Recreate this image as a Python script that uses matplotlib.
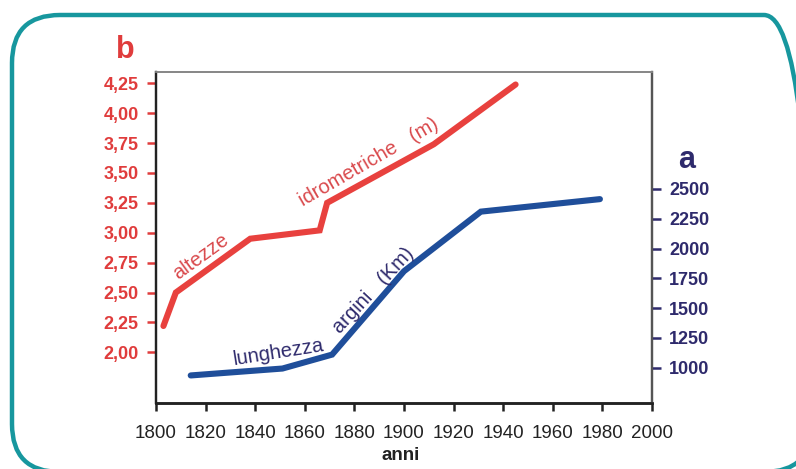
import matplotlib
matplotlib.use("Agg")
import matplotlib.pyplot as plt
from matplotlib.patches import FancyBboxPatch

plt.rcParams['font.family'] = ['Liberation Sans', 'DejaVu Sans']

# ---- data ----
red_years = [1803, 1808, 1838, 1866, 1869, 1912, 1945]
red_vals = [2.22, 2.50, 2.95, 3.02, 3.25, 3.74, 4.24]

blue_years = [1814, 1851, 1871, 1900, 1931, 1979]
blue_vals = [935, 993, 1110, 1810, 2310, 2415]

x_ticks = [1800, 1820, 1840, 1860, 1880, 1900, 1920, 1940, 1960, 1980, 2000]
left_ticks = [2.00, 2.25, 2.50, 2.75, 3.00, 3.25, 3.50, 3.75, 4.00, 4.25]
left_labels = ["2,00", "2,25", "2,50", "2,75", "3,00", "3,25", "3,50", "3,75", "4,00", "4,25"]
right_ticks = [1000, 1250, 1500, 1750, 2000, 2250, 2500]
right_labels = ["1000", "1250", "1500", "1750", "2000", "2250", "2500"]

RED = '#e8413e'
RED_TXT = '#e03c3c'
RED_ANN = '#d9494c'
BLUE = '#1f4e9a'
NAVY = '#2e2a6c'
TEAL = '#17979e'

W, H = 796, 469
fig = plt.figure(figsize=(W / 100, H / 100), dpi=100)
fig.patch.set_facecolor('white')

# border frame (pixel coordinate overlay, y up)
bg = fig.add_axes([0, 0, 1, 1])
bg.set_xlim(0, W)
bg.set_ylim(0, H)
bg.axis('off')
bg.add_patch(FancyBboxPatch((12, H - 472), 812 - 12, 472 - 15,
                            boxstyle="round,pad=0,rounding_size=48",
                            fill=False, edgecolor=TEAL, linewidth=3.2, clip_on=False))

ax = fig.add_axes([156 / W, 1 - 403 / H, (652 - 156) / W, (403 - 72) / H])
ax2 = ax.twinx()

ax.set_xlim(1800, 2000)
ax.set_ylim(1.576, 4.3445)
ax2.set_ylim(703.7, 3482)

ax.plot(red_years, red_vals, color=RED, linewidth=4.4, solid_capstyle='round',
        solid_joinstyle='miter', zorder=3)
ax2.plot(blue_years, blue_vals, color=BLUE, linewidth=4.4, solid_capstyle='round',
         solid_joinstyle='miter', zorder=3)

ax.set_xticks(x_ticks)
ax.set_xticklabels([str(t) for t in x_ticks], fontsize=13.5, color='#222222')
ax.set_yticks(left_ticks)
ax.set_yticklabels(left_labels, fontsize=13, fontweight='bold', color=RED_TXT)
ax2.set_yticks(right_ticks)
ax2.set_yticklabels(right_labels, fontsize=13, fontweight='bold', color=NAVY)

ax.tick_params(axis='x', direction='out', length=6, width=1.8, color='#222222', pad=10)
ax.tick_params(axis='y', direction='out', length=6.5, width=1.8, color=RED_TXT, pad=6)
ax2.tick_params(axis='y', direction='out', length=6.5, width=1.8, color=NAVY, pad=6)

for a in (ax, ax2):
    a.spines['left'].set_color('#222222')
    a.spines['left'].set_linewidth(1.6)
    a.spines['bottom'].set_color('#222222')
    a.spines['bottom'].set_linewidth(1.8)
    a.spines['top'].set_color('#888888')
    a.spines['top'].set_linewidth(1.3)
    a.spines['right'].set_color('#555555')
    a.spines['right'].set_linewidth(1.6)

# axis titles
fig.text(125 / W, 1 - 50 / H, "b", color=RED_TXT, fontsize=22, fontweight='bold',
         ha='center', va='center')
fig.text(687 / W, 1 - 160 / H, "a", color=NAVY, fontsize=22, fontweight='bold',
         ha='center', va='center')
fig.text(401 / W, 1 - 455 / H, "anni", color='#222222', fontsize=13.5, fontweight='bold',
         ha='center', va='center')

# in-plot annotations
ax.text(1818.0, 2.80, "altezze", color=RED_ANN, fontsize=14.5, rotation=36,
        ha='center', va='center', rotation_mode='anchor')
ax.text(1885.9, 3.59, "idrometriche   (m)", color=RED_ANN, fontsize=14.5, rotation=30,
        ha='center', va='center', rotation_mode='anchor')
ax2.text(1849.6, 1128, "lunghezza", color=NAVY, fontsize=14.5, rotation=9,
         ha='center', va='center', rotation_mode='anchor')
ax2.text(1887.8, 1650, "argini   (Km)", color=NAVY, fontsize=14.5, rotation=47,
         ha='center', va='center', rotation_mode='anchor')

fig.savefig("out.png", dpi=100, facecolor='white')
